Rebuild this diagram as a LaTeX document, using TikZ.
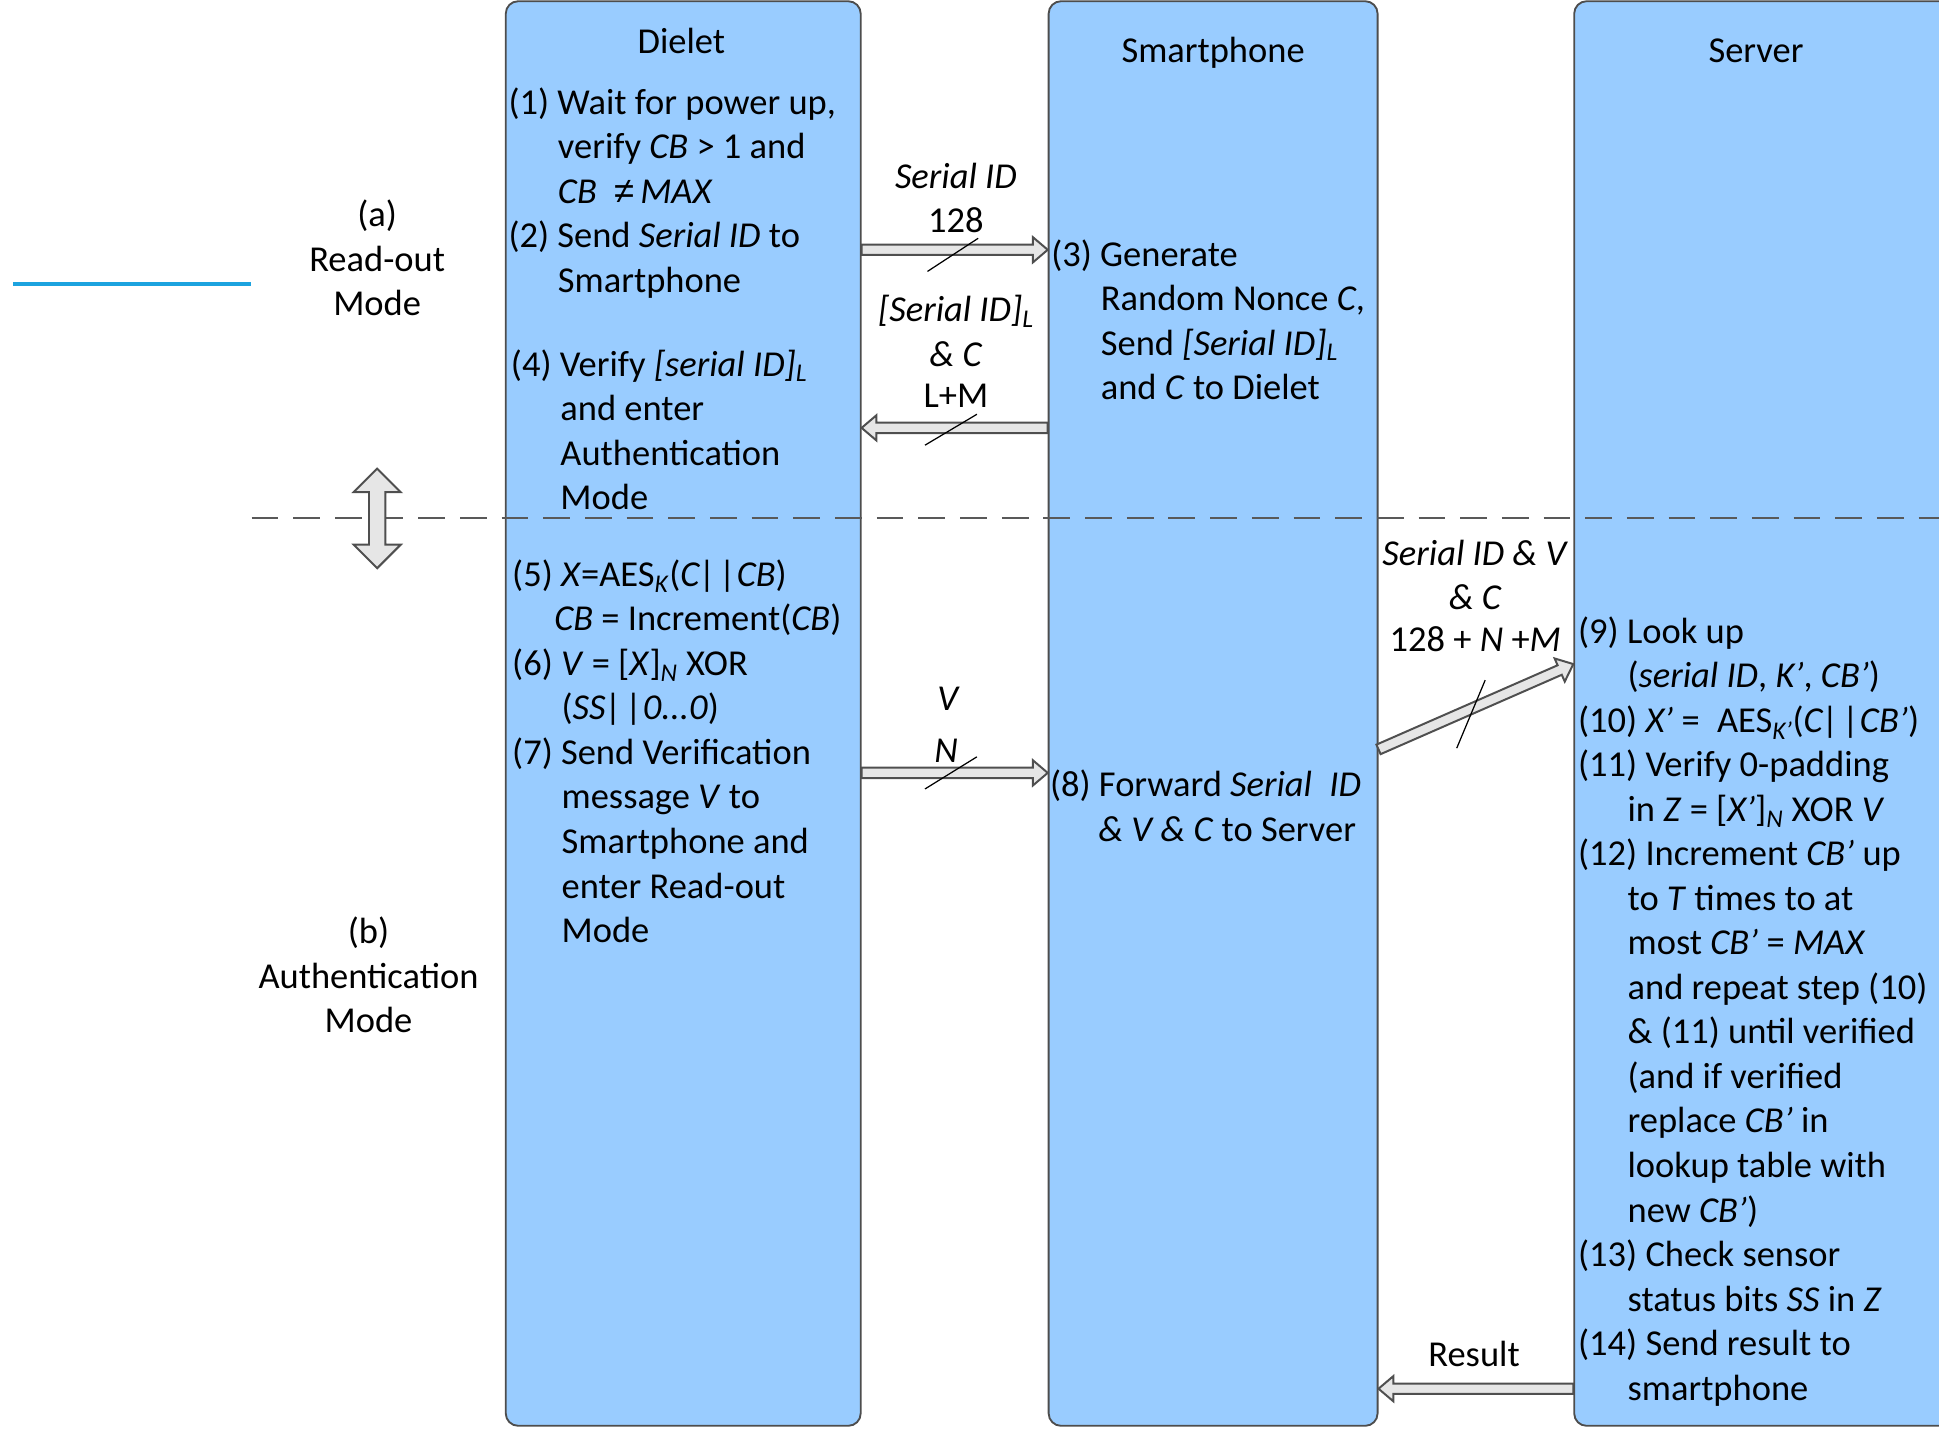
\documentclass[tikz,border=0pt]{standalone}
\usepackage{fontspec}
\setmainfont{Carlito}
\newfontfamily\symbfont{Liberation Sans}
\usetikzlibrary{calc}
\definecolor{boxblue}{HTML}{99CCFF}
\definecolor{boxline}{HTML}{4D4D4D}
\definecolor{arrowfill}{HTML}{E6E6E6}
\definecolor{arrowline}{HTML}{4F4F4F}
\definecolor{lineblue}{HTML}{1CA3DF}
\definecolor{dashgray}{HTML}{595959}
\newcommand\mysub[1]{\textsubscript{\textit{#1}}}
\newcommand\ind{\hspace*{40pt}}
\newcommand\hollowarrow[2]{%
  \coordinate (hahead) at ($(#2)!12pt!(#1)$);
  \draw[hollow] ($(#1)!4.2pt!90:(#2)$) -- ($(hahead)!4.2pt!90:(#2)$) -- ($(hahead)!10.2pt!90:(#2)$) -- (#2)
     -- ($(hahead)!10.2pt!-90:(#2)$) -- ($(hahead)!4.2pt!-90:(#2)$) -- ($(#1)!4.2pt!-90:(#2)$) -- cycle;}
\begin{document}
\begin{tikzpicture}[x=1pt,y=-1pt,
  lane/.style={draw=boxline, line width=1.5pt, fill=boxblue, rounded corners=10pt, inner sep=0pt},
  txt/.style={font=\fontsize{29.5}{36}\selectfont, inner sep=0pt, align=left, anchor=north west},
  ctxt/.style={font=\fontsize{29.5}{36}\selectfont, inner sep=0pt, align=center, anchor=north},
  hollow/.style={draw=arrowline, line width=1.6pt, fill=arrowfill, line join=miter},
  slash/.style={draw=black, line width=1pt},
  dashline/.style={draw=dashgray, line width=1.6pt, dash pattern=on 21.6pt off 12.1pt}]
\useasboundingbox (0,0) rectangle (1568,1155);
\begin{scope}
\clip (0,0) rectangle (1568,1155);
\node[lane, minimum width=287pt, minimum height=1152pt] (dielet) at (552.5,577) {};
\node[lane, minimum width=266pt, minimum height=1152pt] (smart) at (981,577) {};
\node[lane, minimum width=320pt, minimum height=1152pt] (server) at (1433,577) {};
\end{scope}

% mode separator
\draw[lineblue, line width=3.2pt] (10.8,230) -- (202.6,230);
\draw[dashline] (203.5,419) -- (1568,419);
\draw[hollow] (305,379) -- (324,398) -- (311.6,398) -- (311.6,440.5) -- (324,440.5) -- (305,459.5)
  -- (286,440.5) -- (298.4,440.5) -- (298.4,398) -- (286,398) -- cycle;

% connector end points
\coordinate (a1s) at (dielet.east |- 0,202);
\coordinate (a1e) at (smart.west |- 0,202);
\coordinate (a2s) at (smart.west |- 0,346);
\coordinate (a2e) at (dielet.east |- 0,346);
\coordinate (a3s) at (dielet.east |- 0,625);
\coordinate (a3e) at (smart.west |- 0,625);
\coordinate (a4s) at (smart.east |- 0,606);
\coordinate (a4e) at (server.west |- 0,537);
\coordinate (a5s) at (server.west |- 0,1123);
\coordinate (a5e) at (smart.east |- 0,1123);
\hollowarrow{a1s}{a1e}
\hollowarrow{a2s}{a2e}
\hollowarrow{a3s}{a3e}
\hollowarrow{a4s}{a4e}
\hollowarrow{a5s}{a5e}
\draw[slash] (750,219.5) -- (791,192.7);
\draw[slash] (748,360) -- (790,335);
\draw[slash] (748,638) -- (790,612);
\draw[slash] (1178,605) -- (1201,550);

% headers
\node[ctxt] (hd) at (551,17.8) {\strut Dielet};
\node[ctxt] (hs) at (981,24.8) {\strut Smartphone};
\node[ctxt] (hv) at (1420,24.8) {\strut Server};

% Dielet text
\node[txt] (d1) at (411,66.8) {\strut(1) Wait for power up,\\
\ind verify \textit{CB} > 1 and\\
\ind\textit{CB}\hspace{14pt}{\symbfont\itshape ≠}\,\textit{MAX}\\
(2) Send \textit{Serial ID} to\\
\ind Smartphone};
\node[txt] (d4) at (413,278.8) {\strut(4) Verify \textit{[serial ID]}\mysub{L}\\
\ind and enter\\
\ind Authentication\\
\ind Mode};
\node[txt] (d5) at (414,448.8) {\strut(5) \textit{X}=AES\mysub{K}(\textit{C|\kern3pt|CB})\\
\hspace*{34pt}\textit{CB} = Increment(\textit{CB})\\
(6) \textit{V} = [\textit{X}]\mysub{N} XOR\\
\ind(\textit{SS|\kern3pt|0...0})\\
(7) Send Verification\\
\ind message \textit{V} to\\
\ind Smartphone and\\
\ind enter Read-out\\
\ind Mode};

% Smartphone text
\node[txt] (s3) at (850,189.8) {\strut(3) Generate\\
\ind Random Nonce \textit{C},\\
\ind Send \textit{[Serial ID]}\mysub{L}\\
\ind and \textit{C} to Dielet};
\node[txt] (s8) at (849,618.8) {\strut(8) Forward \textit{Serial}\hspace{14pt}\textit{ID}\\
\hspace*{39pt}\textit{\& V \& C} to Server};

% Server text
\node[txt] (v9) at (1276,494.8) {\strut(9) Look up\\
\ind(\textit{serial ID}, \textit{K’}, \textit{CB’})\\
(10) \textit{X’} =\hspace{14pt}AES\mysub{K’}(\textit{C|\kern3pt|CB’})\\
(11) Verify 0-padding\\
\ind in \textit{Z} = [\textit{X’}]\mysub{N} XOR \textit{V}\\
(12) Increment \textit{CB’} up\\
\ind to \textit{T} times to at\\
\ind most \textit{CB’} = \textit{MAX}\\
\ind and repeat step (10)\\
\ind\& (11) until verified\\
\ind(and if verified\\
\ind replace \textit{CB’} in\\
\ind lookup table with\\
\ind new \textit{CB’})\\
(13) Check sensor\\
\ind status bits \textit{SS} in \textit{Z}\\
(14) Send result to\\
\ind smartphone};

% connector labels
\node[ctxt] (l1) at (773,126.8) {\strut\textit{Serial ID}\\128};
\node[ctxt] (l2) at (773,234.8) {\strut\textit{[Serial ID]}\mysub{L}\\\textit{\& C}\\[-3pt]L+M};
\node[ctxt] (l3a) at (767,548.8) {\strut\textit{V}};
\node[ctxt] (l3b) at (765,590.8) {\strut\textit{N}};
\node[ctxt] (l4) at (1193,431.8) {\strut\textit{Serial ID \& V}\\\textit{\& C}\\[-2pt]128 + \textit{N} +\textit{M}};
\node[ctxt] (l5) at (1192,1079.8) {\strut Result};

% mode labels
\node[ctxt] (ma) at (305,157.8) {\strut(a)\\Read-out\\Mode};
\node[ctxt] (mb) at (298,737.8) {\strut(b)\\Authentication\\Mode};
\end{tikzpicture}
\end{document}
